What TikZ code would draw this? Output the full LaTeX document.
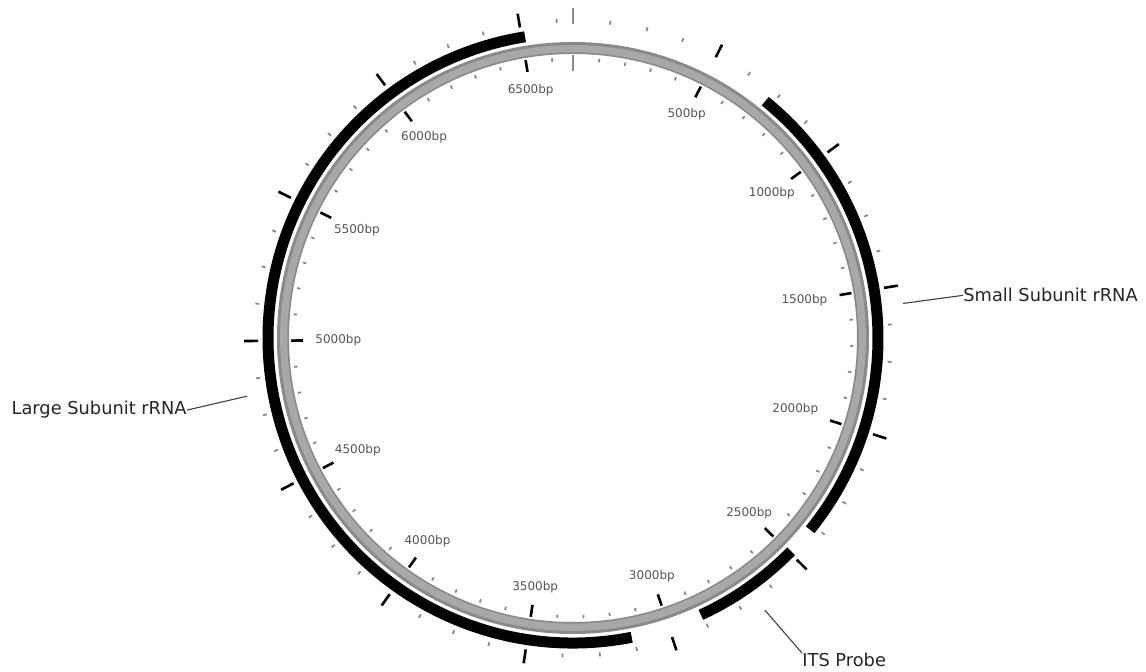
\documentclass[tikz,border=0pt]{standalone}
\usepackage{fontspec}
\setsansfont{DejaVu Sans}
\usepackage{tikz}
\usetikzlibrary{positioning}
\usepackage{xcolor}
\definecolor{RingDark}{HTML}{8A8A8A}
\definecolor{RingLight}{HTML}{A8A8A8}
\definecolor{TickGray}{HTML}{8A8A8A}
\definecolor{LabelGray}{HTML}{555555}

\begin{document}
\begin{tikzpicture}[
    x=0.5pt, y=0.5pt,
    ringout/.style={line width=6pt, draw=RingDark},
    ringin/.style={line width=3.6pt, draw=RingLight},
    feat/.style={line width=5.5pt, draw=black},
    tickmajor/.style={line width=1.3pt, draw=black},
    tickminor/.style={line width=0.9pt, draw=TickGray},
    tickzero/.style={line width=0.8pt, draw=TickGray},
    bplabel/.style={font=\sffamily\fontsize{6}{7}\selectfont, text=LabelGray,
                    inner sep=1pt},
    featlabel/.style={font=\sffamily\fontsize{8.9}{10}\selectfont,
                      text=black!85, inner sep=0pt},
    leader/.style={line width=0.55pt, draw=black!75},
  ]
    \useasboundingbox (-573,-334) rectangle (573,338);
    \def\bpdeg{0.053892}% degrees per bp (6680 bp)

    % ── Backbone ring ────────────────────────────────────────────────────
    \draw[ringout] (0,0) circle[radius=290];
    \draw[ringin]  (0,0) circle[radius=289.3];

    % ── Inner ruler: minor every 100 bp, major + label every 500 bp ─────
    \foreach \b in {100,200,...,6600} {
      \pgfmathsetmacro\a{90-\b*\bpdeg}
      \draw[tickminor] (\a:277) -- (\a:280.5);
    }
    \foreach \b in {500,1000,...,6500} {
      \pgfmathsetmacro\a{90-\b*\bpdeg}
      \draw[tickmajor] (\a:270) -- (\a:282);
      \node[bplabel, anchor=\a] (lab\b) at (\a:260) {\b bp};
    }

    % ── Outer ruler: minor every 125 bp, major every 500 bp ─────────────
    \foreach \b in {125,250,...,6625} {
      \pgfmathsetmacro\a{90-\b*\bpdeg}
      \draw[tickminor] (\a:315.5) -- (\a:319.5);
    }
    \foreach \b in {500,1000,...,6500} {
      \pgfmathsetmacro\a{90-\b*\bpdeg}
      \draw[tickmajor] (\a:315) -- (\a:329);
    }

    % ── Origin ───────────────────────────────────────────────────────────
    \draw[tickzero] (90:267) -- (90:283);
    \draw[tickzero] (90:314) -- (90:330);

    % ── Features: SSU, ITS probe, LSU ────────────────────────────────────
    \foreach \s/\e in {725/2393, 2493/2880, 3134/6512} {
      \pgfmathsetmacro\as{90-\s*\bpdeg}
      \pgfmathsetmacro\ae{90-\e*\bpdeg}
      \draw[feat] (\as:305) arc[start angle=\as, end angle=\ae, radius=305];
    }

    % ── Feature labels ───────────────────────────────────────────────────
    \coordinate (ssutip) at ({90-1559*\bpdeg}:332);
    \coordinate (itstip) at ({90-2687*\bpdeg}:333);
    \coordinate (lsutip) at ({90-4822*\bpdeg}:331);

    \node[featlabel, anchor=base west] (ssu) at (390,36)   {Small Subunit rRNA};
    \node[featlabel, anchor=base west] (its) at (229,-329) {ITS Probe};
    \node[featlabel, anchor=base east] (lsu) at (-386,-77) {Large Subunit rRNA};

    \draw[leader] (ssutip) -- (ssu.west);
    \draw[leader] (itstip) -- (its.north west);
    \draw[leader] (lsutip) -- (lsu.east);
  \end{tikzpicture}
\end{document}
